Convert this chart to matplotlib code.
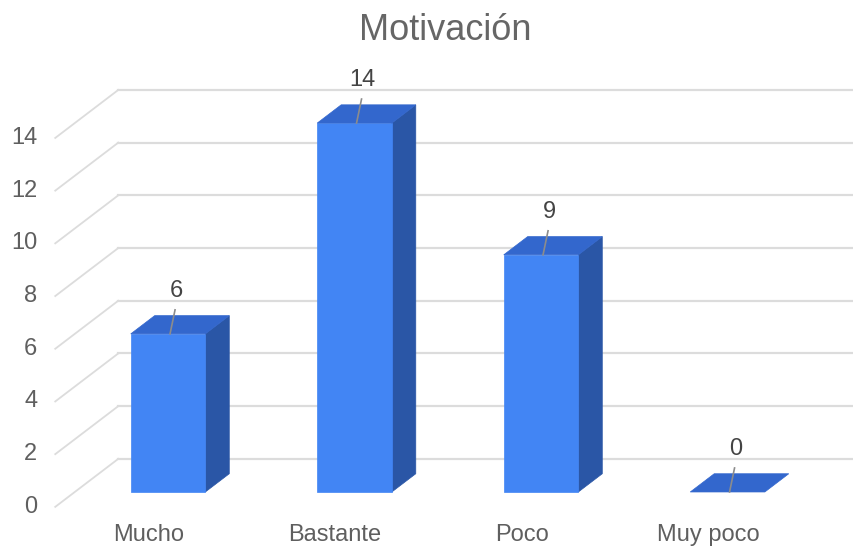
import matplotlib
matplotlib.use("Agg")
import matplotlib.pyplot as plt
from matplotlib.patches import Polygon

plt.rcParams['font.family'] = ['Liberation Sans', 'DejaVu Sans']

# Motivación survey answers
categories = ['Mucho', 'Bastante', 'Poco', 'Muy poco']
counts = [6, 14, 9, 0]
ticks = [0, 2, 4, 6, 8, 10, 12, 14]

# colours of the three visible faces of each bar
front_color = '#4285F4'
top_color = '#3367CD'
side_color = '#2A56A6'
grid_color = '#DCDCDC'
text_color = '#5F5F5F'

fig = plt.figure(figsize=(8.54, 5.46), dpi=100)
ax = fig.add_axes([0, 0, 1, 1])
ax.set_xlim(-0.901, 3.678)
ax.set_ylim(-2.05, 18.67)
ax.axis('off')

# data units per pixel, used for the fake 3D depth and text offsets
px_x = (3.678 + 0.901) / 854
px_y = (18.67 + 2.05) / 546

# full depth of the chart box and where the bars sit inside it
depth_x = 63 * px_x
depth_y = 48 * px_y
front_frac = 0.31
bar_frac = 0.38
bar_w = 0.4
wall_left = -0.5

###############################################################################
# Left wall diagonals, back gridlines and tick labels
for t in ticks:
    fx = wall_left - front_frac * depth_x
    fy = t - front_frac * depth_y
    bx = wall_left + (1 - front_frac) * depth_x
    by = t + (1 - front_frac) * depth_y
    ax.plot([fx, bx], [fy, by], color=grid_color, lw=1.3, zorder=1)
    ax.plot([bx, ax.get_xlim()[1]], [by, by], color=grid_color, lw=1.6, zorder=1)
    ax.text(fx - 18 * px_x, fy, str(t), ha='right', va='center',
            fontsize=17, color=text_color)

###############################################################################
# Bars: front face, top face and right side
dbx = bar_frac * depth_x
dby = bar_frac * depth_y
for i, (name, v) in enumerate(zip(categories, counts)):
    x0 = i - bar_w / 2
    x1 = i + bar_w / 2
    if v > 0:
        ax.add_patch(Polygon([(x1, 0), (x1 + dbx, dby), (x1 + dbx, v + dby), (x1, v)],
                             closed=True, facecolor=side_color, edgecolor=side_color,
                             lw=0.5, zorder=3))
        ax.add_patch(Polygon([(x0, 0), (x1, 0), (x1, v), (x0, v)],
                             closed=True, facecolor=front_color, edgecolor=front_color,
                             lw=0.5, zorder=4))
    ax.add_patch(Polygon([(x0, v), (x1, v), (x1 + dbx, v + dby), (x0 + dbx, v + dby)],
                         closed=True, facecolor=top_color, edgecolor=top_color,
                         lw=0.5, zorder=4))

    # value label with its leader line
    ax.plot([i + 2 * px_x, i + 7 * px_x], [v, v + 24 * px_y],
            color='#8C8C8C', lw=1.2, zorder=5)
    ax.text(i + 8 * px_x, v + 43 * px_y, str(v), ha='center', va='center',
            fontsize=17, color='#444444', zorder=5)

    # category label on the front plane
    ax.text(i - front_frac * depth_x, -front_frac * depth_y - 28 * px_y, name,
            ha='center', va='center', fontsize=17, color=text_color)

fig.text(0.521, 0.945, 'Motivación', ha='center', va='center',
         fontsize=26, color='#666666')

fig.savefig('out.png', dpi=100)
